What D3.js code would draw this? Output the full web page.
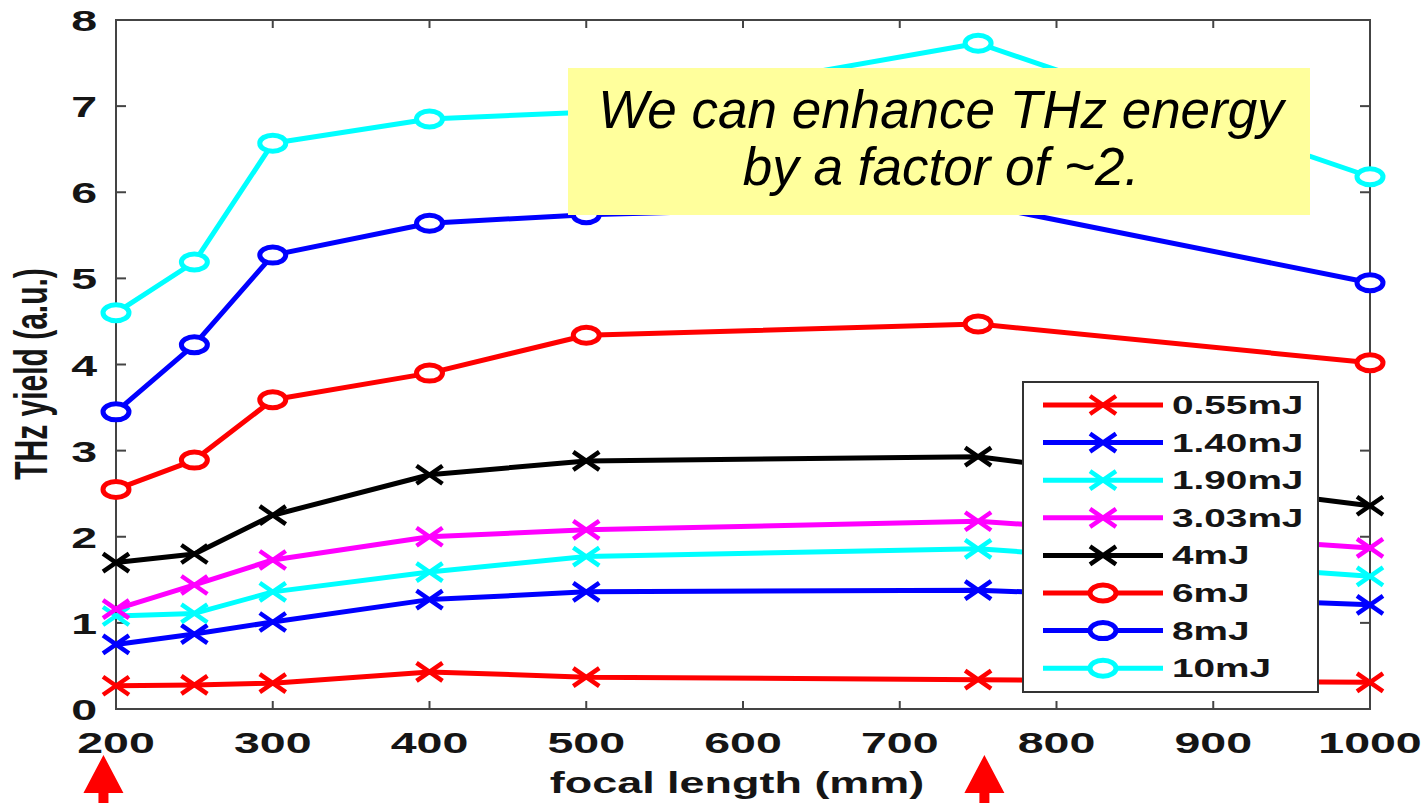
<!DOCTYPE html>
<html>
<head>
<meta charset="utf-8">
<script src="https://cdn.jsdelivr.net/npm/d3@7"></script>
<style>
html,body{margin:0;padding:0;background:#fff;}
svg{display:block;}
text{font-family:"Liberation Sans",Arial,sans-serif;}
</style>
</head>
<body>
<svg id="chart" width="1427" height="803"></svg>
<script>
// ---- data ----
const focalLengths = [200, 250, 300, 400, 500, 750, 1000];
const seriesNames = ["0.55mJ","1.40mJ","1.90mJ","3.03mJ","4mJ","6mJ","8mJ","10mJ"];
const seriesColors = ["#ff0000","#0000ff","#00ffff","#ff00ff","#000000","#ff0000","#0000ff","#00ffff"];
const seriesMarkers = ["x","x","x","x","x","o","o","o"];
const y055 = [0.27, 0.28, 0.30, 0.43, 0.37, 0.34, 0.31];
const y140 = [0.75, 0.87, 1.01, 1.27, 1.36, 1.38, 1.21];
const y190 = [1.08, 1.11, 1.36, 1.59, 1.77, 1.86, 1.54];
const y303 = [1.16, 1.44, 1.73, 2.00, 2.08, 2.18, 1.87];
const y4   = [1.70, 1.80, 2.25, 2.72, 2.88, 2.93, 2.36];
const y6   = [2.55, 2.89, 3.59, 3.90, 4.34, 4.47, 4.02];
const y8   = [3.45, 4.23, 5.27, 5.64, 5.74, 5.86, 4.95];
const y10  = [4.60, 5.19, 6.57, 6.85, 6.93, 7.73, 6.18];
const seriesValues = [y055, y140, y190, y303, y4, y6, y8, y10];
const xTicks = [200, 300, 400, 500, 600, 700, 800, 900, 1000];
const yTicks = [0, 1, 2, 3, 4, 5, 6, 7, 8];
const xLabel = "focal length (mm)";
const yLabel = "THz yield (a.u.)";
const noteLines = ["We can enhance THz energy", "by a factor of ~2."];
const arrowAt = [192, 754];

// ---- layout ----
const svg = d3.select("#chart");
const L = 116, R = 1370, T = 20, B = 709;
const SX = 1.55; // horizontal stretch of the original picture
const x = d3.scaleLinear().domain([200, 1000]).range([L, R]);
const y = d3.scaleLinear().domain([0, 8]).range([B, T]);
const axisColor = "#444";

// plot box
svg.append("rect").attr("x", L).attr("y", T).attr("width", R - L).attr("height", B - T)
  .attr("fill", "#fff").attr("stroke", axisColor).attr("stroke-width", 2);

// ticks (inward, mirrored)
const tk = svg.append("g").attr("stroke", axisColor).attr("stroke-width", 2);
xTicks.forEach(v => {
  tk.append("line").attr("x1", x(v)).attr("x2", x(v)).attr("y1", B).attr("y2", B - 8);
  tk.append("line").attr("x1", x(v)).attr("x2", x(v)).attr("y1", T).attr("y2", T + 8);
});
yTicks.forEach(v => {
  tk.append("line").attr("x1", L).attr("x2", L + 10).attr("y1", y(v)).attr("y2", y(v));
  tk.append("line").attr("x1", R).attr("x2", R - 10).attr("y1", y(v)).attr("y2", y(v));
});

// tick labels
const stretchedText = (gx, gy, str, size, anchor, extra) => {
  const g = svg.append("g").attr("transform", `translate(${gx},${gy}) scale(${SX},1)` + (extra || ""));
  return g.append("text").attr("text-anchor", anchor).attr("font-size", size)
    .attr("font-weight", "bold").attr("fill", "#151515").text(str);
};
xTicks.forEach(v => stretchedText(x(v), 753, v, 30, "middle"));
yTicks.forEach(v => stretchedText(97, y(v) + 11, v, 30, "end"));

// axis labels
stretchedText((L + R) / 2 - 6, 793, xLabel, 29, "middle");
stretchedText(47, 374, yLabel, 30, "middle", " rotate(-90)");

// series
const line = d3.line().x((d, i) => x(focalLengths[i])).y(d => y(d));
function drawMarker(g, type, cx, cy, color) {
  if (type === "x") {
    g.append("path").attr("d", `M${cx-13},${cy-9}L${cx+13},${cy+9}M${cx-13},${cy+9}L${cx+13},${cy-9}`)
      .attr("stroke", color).attr("stroke-width", 4.5).attr("fill", "none");
  } else {
    g.append("ellipse").attr("cx", cx).attr("cy", cy).attr("rx", 13).attr("ry", 8)
      .attr("fill", "#fff").attr("stroke", color).attr("stroke-width", 5);
  }
}
seriesValues.forEach((vals, s) => {
  const g = svg.append("g");
  g.append("path").datum(vals).attr("d", line).attr("fill", "none")
    .attr("stroke", seriesColors[s]).attr("stroke-width", 5).attr("stroke-linejoin", "round");
  vals.forEach((v, i) => drawMarker(g, seriesMarkers[s], x(focalLengths[i]), y(v), seriesColors[s]));
});

// annotation box
svg.append("rect").attr("x", 568).attr("y", 68).attr("width", 742).attr("height", 147).attr("fill", "#ffff9c");
noteLines.forEach((t, i) => {
  svg.append("text").attr("x", 941).attr("y", 128 + i * 57).attr("text-anchor", "middle")
    .attr("font-size", 53).attr("font-style", "italic").attr("fill", "#000").text(t);
});

// legend
const lg = svg.append("g");
lg.append("rect").attr("x", 1023).attr("y", 382).attr("width", 295).attr("height", 310)
  .attr("fill", "#fff").attr("stroke", "#333").attr("stroke-width", 2);
seriesNames.forEach((n, i) => {
  const ly = 405 + i * 37.6;
  lg.append("line").attr("x1", 1043).attr("x2", 1163).attr("y1", ly).attr("y2", ly)
    .attr("stroke", seriesColors[i]).attr("stroke-width", 5);
  drawMarker(lg, seriesMarkers[i], 1103, ly, seriesColors[i]);
  const tg = lg.append("g").attr("transform", `translate(1172,${ly + 9}) scale(${SX},1)`);
  tg.append("text").attr("font-size", 25).attr("font-weight", "bold").attr("fill", "#151515").text(n);
});

// red arrows
arrowAt.forEach(v => {
  const cx = x(v);
  svg.append("path").attr("d", `M${cx},755L${cx+20},793L${cx+5},793L${cx+5},803L${cx-5},803L${cx-5},793L${cx-20},793Z`)
    .attr("fill", "#ff0000");
});
</script>
</body>
</html>
